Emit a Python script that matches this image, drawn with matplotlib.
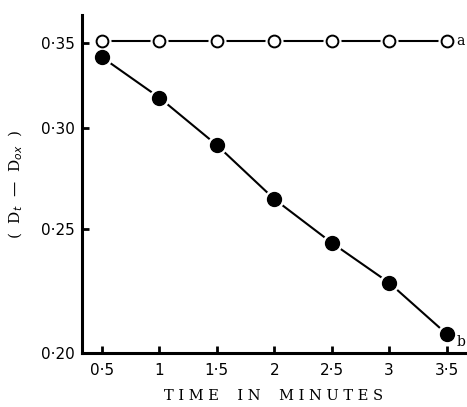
import numpy as np
import matplotlib.pyplot as plt
from matplotlib.ticker import FixedLocator, FixedFormatter, NullLocator

# time in minutes
time_min = [0.5, 1.0, 1.5, 2.0, 2.5, 3.0, 3.5]
# curve a (open circles) and curve b (filled circles)
curve_a = [0.351, 0.351, 0.351, 0.351, 0.351, 0.351, 0.351]
curve_b = [0.341, 0.317, 0.291, 0.264, 0.244, 0.227, 0.207]

x_ticks = [0.5, 1, 1.5, 2, 2.5, 3, 3.5]
x_ticklabels = ["0·5", "1", "1·5", "2", "2·5", "3", "3·5"]
y_ticks = [0.20, 0.25, 0.30, 0.35]
y_ticklabels = ["0·20", "0·25", "0·30", "0·35"]

fig = plt.figure(figsize=(4.67, 4.07), dpi=100)
ax = fig.add_axes([82 / 467, 1 - 353 / 407, (465 - 82) / 467, (353 - 15) / 407])

# line a
ax.plot(time_min, curve_a, color="black", lw=1.5, zorder=1)
ax.plot(time_min, curve_a, ls="none", marker="o", ms=12, mfc="white", mec="white", zorder=2)
ax.plot(time_min, curve_a, ls="none", marker="o", ms=8.5, mfc="white", mec="black", mew=1.4, zorder=3)

# line b
ax.plot(time_min, curve_b, color="black", lw=1.5, zorder=1)
ax.plot(time_min, curve_b, ls="none", marker="o", ms=13.5, mfc="white", mec="white", zorder=2)
ax.plot(time_min, curve_b, ls="none", marker="o", ms=10, mfc="black", mec="black", zorder=3)

ax.text(time_min[-1] + 0.08, curve_a[-1], "a", fontsize=10, family="DejaVu Serif",
        va="center", ha="left")
ax.text(time_min[-1] + 0.09, curve_b[-1] * 0.985, "b", fontsize=10, family="DejaVu Serif",
        va="center", ha="left")

ax.set_yscale("log")
ax.set_xlim(0.326, 3.66)
ax.set_ylim(0.20, 0.368)

ax.xaxis.set_major_locator(FixedLocator(x_ticks))
ax.xaxis.set_major_formatter(FixedFormatter(x_ticklabels))
ax.yaxis.set_major_locator(FixedLocator(y_ticks))
ax.yaxis.set_major_formatter(FixedFormatter(y_ticklabels))
ax.yaxis.set_minor_locator(NullLocator())
ax.xaxis.set_minor_locator(NullLocator())

for s in ["top", "right"]:
    ax.spines[s].set_visible(False)
for s in ["left", "bottom"]:
    ax.spines[s].set_linewidth(2.2)

ax.tick_params(axis="both", direction="in", length=5, width=2, labelsize=11, pad=7)
ax.tick_params(axis="y", pad=5)

ax.set_xlabel("T I M E    I N    M I N U T E S", family="DejaVu Serif", fontsize=10.5, labelpad=8)
ax.set_ylabel(r"(  D$_t$  —  D$_{ox}$  )", family="DejaVu Serif", fontsize=11, labelpad=12)

fig.savefig("out.png", dpi=100)
